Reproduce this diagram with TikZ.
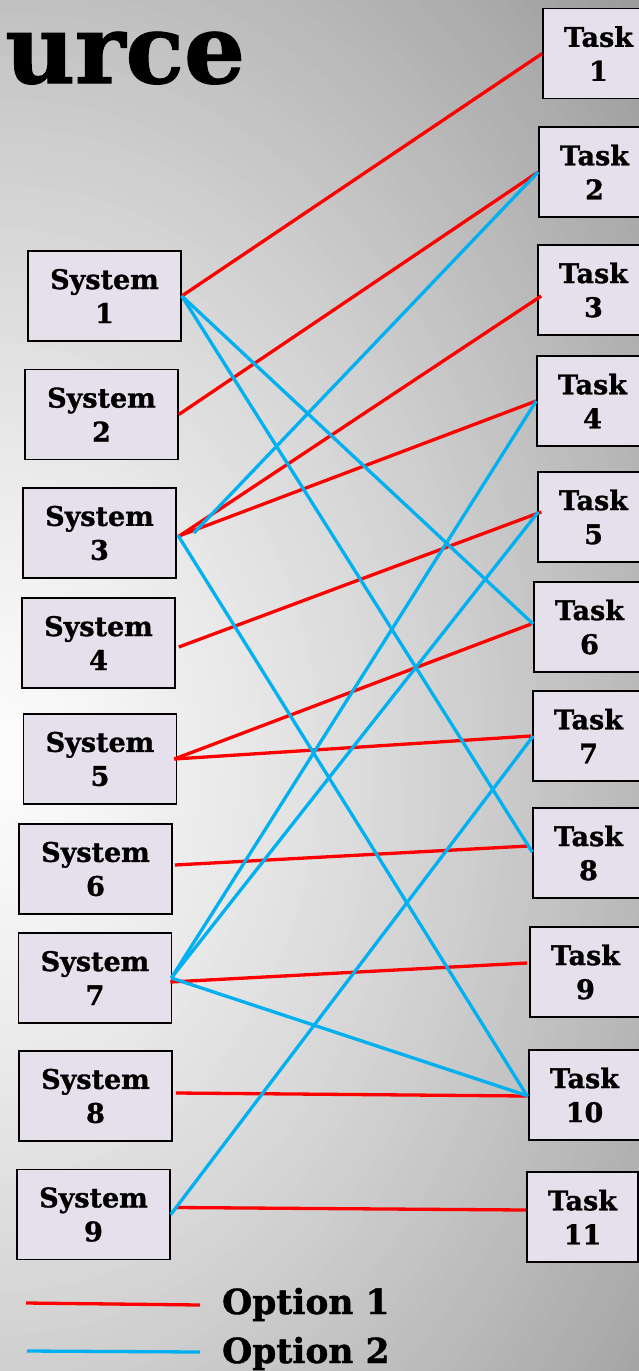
\documentclass[tikz,border=0pt]{standalone}
\usepackage{fontspec}
\setmainfont{DejaVu Serif}[BoldFeatures={FakeBold=1.2}]
\usetikzlibrary{calc}
\definecolor{boxfill}{HTML}{E6E0EC}
\definecolor{optred}{HTML}{FF0000}
\definecolor{optblue}{HTML}{00B0F0}
\tikzset{
  sysbox/.style={draw=black, line width=1.6pt, fill=boxfill, minimum width=153pt, minimum height=90pt, inner sep=0pt, align=center, font=\fontsize{27}{34}\selectfont\bfseries},
  taskbox/.style={sysbox, minimum width=111pt},
  opt1/.style={draw=optred, line width=3.3pt},
  opt2/.style={draw=optblue, line width=3.3pt},
}
\begin{document}
\begin{tikzpicture}[x=1pt, y=-1pt]
\useasboundingbox (0,0) rectangle (639,1371);
\begin{scope}
\clip (0,0) rectangle (639,1371);
\fill[black!37] (0,0) rectangle (639,1371);
\foreach \i in {0,...,79} {
  \pgfmathsetmacro{\tt}{1-\i/80}
  \pgfmathsetmacro{\tm}{1-(\i+0.5)/80}
  \pgfmathsetmacro{\gv}{0.988-0.39*(\tm)^1.25}
  \definecolor{bgtmp}{gray}{\gv}
  \fill[bgtmp] (0,760) ellipse [x radius={880*\tt}, y radius={1150*\tt}];
}
\end{scope}
\node[anchor=base west, inner sep=0pt, font=\fontsize{96}{110}\selectfont\bfseries] (title) at (5,83) {urce};
% systems
\node[sysbox] (S1) at (104.5,296) {System\\1};
\node[sysbox] (S2) at (101.5,414.5) {System\\2};
\node[sysbox] (S3) at (99.5,533) {System\\3};
\node[sysbox] (S4) at (98.5,643) {System\\4};
\node[sysbox] (S5) at (100,759) {System\\5};
\node[sysbox] (S6) at (95.5,869) {System\\6};
\node[sysbox] (S7) at (95,978) {System\\7};
\node[sysbox] (S8) at (95.5,1096) {System\\8};
\node[sysbox] (S9) at (93.5,1214.5) {System\\9};
% tasks
\node[taskbox] (T1) at (598.5,53.5) {Task\\1};
\node[taskbox] (T2) at (594.5,172) {Task\\2};
\node[taskbox] (T3) at (593.5,290) {Task\\3};
\node[taskbox] (T4) at (592.5,401) {Task\\4};
\node[taskbox] (T5) at (593.5,517) {Task\\5};
\node[taskbox] (T6) at (589.5,627) {Task\\6};
\node[taskbox] (T7) at (588.5,736) {Task\\7};
\node[taskbox] (T8) at (588.5,853) {Task\\8};
\node[taskbox] (T9) at (585.5,972) {Task\\9};
\node[taskbox] (T10) at (584.5,1095) {Task\\10};
\node[taskbox] (T11) at (582.5,1217) {Task\\11};
% option 1 (red)
\draw[opt1] (S1.east) -- (T1.west);
\draw[opt1] (S2.east) -- (T2.west);
\draw[opt1] ($(S3.east)+(1,4)$) -- ($(T3.west)+(4,6)$);
\draw[opt1] ($(S3.east)+(2,3)$) -- (T4.west);
\draw[opt1] ($(S4.east)+(3,4)$) -- ($(T5.west)+(4,-5)$);
\draw[opt1] ($(S5.east)+(-3,0)$) -- ($(T6.west)+(-2,-3)$);
\draw[opt1] ($(S5.east)+(-3,0)$) -- ($(T7.west)+(-1,0)$);
\draw[opt1] ($(S6.east)+(2,-4)$) -- ($(T8.west)+(-4,-7)$);
\draw[opt1] ($(S7.east)+(-2,4)$) -- ($(T9.west)+(-2,-9)$);
\draw[opt1] ($(S8.east)+(3,-3)$) -- ($(T10.west)+(-1,1)$);
\draw[opt1] ($(S9.east)+(6,-7)$) -- ($(T11.west)+(0,-7)$);
% option 2 (blue)
\draw[opt2] (S1.east) -- ($(T6.west)+(0,-3)$);
\draw[opt2] (S1.east) -- ($(T8.west)+(0,-1)$);
\draw[opt2] ($(S3.east)+(17,0)$) -- (T2.west);
\draw[opt2] ($(S3.east)+(1,2)$) -- ($(T10.west)+(-1,1)$);
\draw[opt2] ($(S7.east)+(-1,0)$) -- (T4.west);
\draw[opt2] ($(S7.east)+(-1,0)$) -- ($(T5.west)+(1,-5)$);
\draw[opt2] ($(S7.east)+(-1,0)$) -- ($(T10.west)+(0,1)$);
\draw[opt2] (S9.east) -- ($(T7.west)+(1,0)$);
% legend
\coordinate (L1a) at (26,1303);
\coordinate (L1b) at (200,1305);
\coordinate (L2a) at (27,1351);
\coordinate (L2b) at (200,1352);
\draw[opt1] (L1a) -- (L1b);
\draw[opt2] (L2a) -- (L2b);
\node[anchor=base west, inner sep=0pt, font=\fontsize{34.5}{40}\selectfont\bfseries] (leg1) at (222,1314) {Option 1};
\node[anchor=base west, inner sep=0pt, font=\fontsize{34.5}{40}\selectfont\bfseries] (leg2) at (222,1363) {Option 2};
\end{tikzpicture}
\end{document}
